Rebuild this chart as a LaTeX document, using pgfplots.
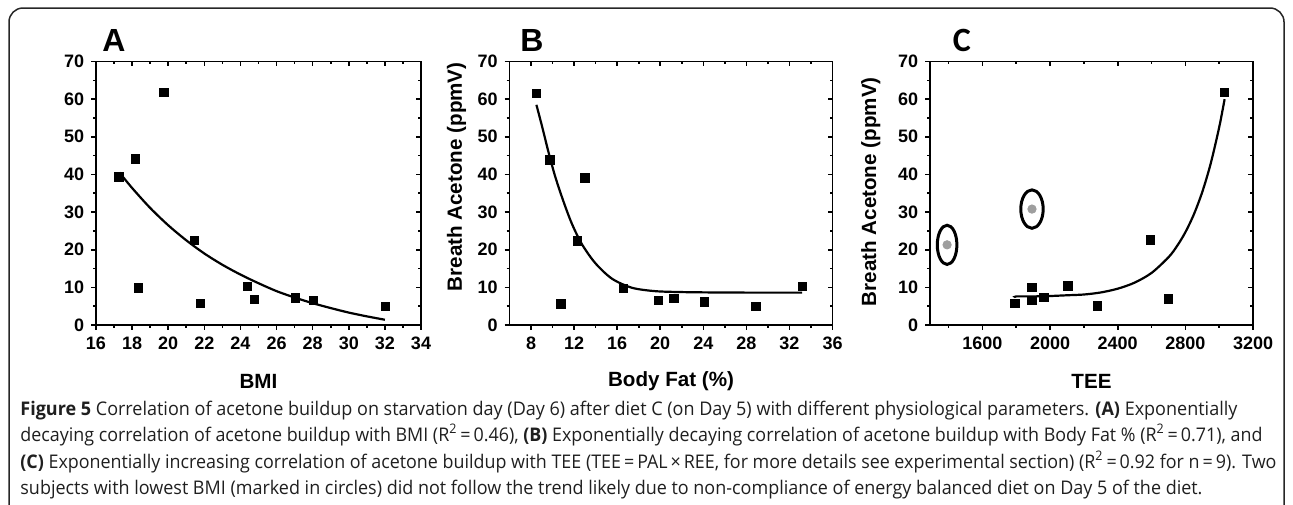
\documentclass[border=0pt]{standalone}
\usepackage{pgfplots}
\pgfplotsset{compat=1.18}
\usepackage{fontspec}
\usepackage{graphicx}
\setmainfont{Liberation Sans}
\newfontfamily\capfont{Open Sans}
\newfontfamily\cfont{Carlito}

\pgfplotsset{
  panel/.style={
    scale only axis, height=131.75pt,
    ymin=0, ymax=70, ytick={0,10,...,70}, minor ytick={5,15,...,65},
    tick align=outside, xtick pos=left, ytick pos=left,
    axis line style={line width=0.9pt},
    major tick length=2.4pt, minor tick length=1.4pt,
    every tick/.append style={line width=0.8pt, black},
    tick label style={font=\bfseries\fontsize{9}{10}\selectfont},
    /pgf/number format/assume math mode=true,
    /pgf/number format/1000 sep={},
    scaled x ticks=false,
    label style={font=\bfseries\fontsize{10.3}{12}\selectfont},
    xlabel style={at={(axis description cs:0.5,-0.2125)}, anchor=center},
    clip=false,
  },
  mirror/.style={
    scale only axis, height=131.75pt,
    ymin=0, ymax=70, ytick={0,10,...,70}, minor ytick={5,15,...,65},
    tick align=inside, xtick pos=right, ytick pos=right,
    axis line style={line width=0.9pt},
    major tick length=2.4pt, minor tick length=1.4pt,
    every tick/.append style={line width=0.8pt, black},
    xticklabels={}, yticklabels={},
    scaled x ticks=false,
  },
}

\begin{document}
\begin{tikzpicture}
\path[use as bounding box] (0pt,0pt) rectangle (646.5pt,-252pt);
\draw[line width=0.75pt, rounded corners=7pt, color=black!85] (4.5pt,-4pt) rectangle (642pt,-280pt);

% Panel A
\begin{axis}[panel, anchor=south west, at={(48pt,-162.5pt)}, width=162.5pt,
  xmin=16, xmax=34, xtick={16,18,...,34}, minor xtick={17,19,...,33},
  xlabel={BMI}]
\addplot[only marks, mark=square*, mark size=2.1pt, black] coordinates {
(17.27,39.3) (18.18,44.1) (19.77,61.8) (18.36,9.9) (21.46,22.5) (21.78,5.7)
(24.38,10.3) (24.77,6.8) (27.06,7.2) (28.05,6.6) (32.04,5.0)};
\addplot[smooth, no marks, line width=1.1pt, black] coordinates {
(17.3,40.5) (18,36.4) (19,31.1) (20,26.5) (21,22.5) (22,19.0) (23,16.0) (24,13.4)
(25,11.1) (26,9.0) (27,7.3) (28,5.8) (29,4.5) (30,3.3) (31,2.3) (32,1.4)};
\end{axis}
\begin{axis}[mirror, anchor=south west, at={(48pt,-162.5pt)}, width=162.5pt,
  xmin=16, xmax=34, xtick={16,18,...,34}, minor xtick={17,19,...,33}]
\end{axis}

% Panel B
\begin{axis}[panel, anchor=south west, at={(254.75pt,-162.5pt)}, width=161.5pt,
  xmin=6, xmax=36, xtick={8,12,...,36}, minor xtick={10,14,...,34},
  xlabel={Body Fat (\%)}, ylabel={Breath Acetone (ppmV)},
  ylabel style={at={(axis description cs:-0.1637,0.5623)}, anchor=center}]
\addplot[only marks, mark=square*, mark size=2.1pt, black] coordinates {
(8.50,61.6) (9.74,43.9) (10.76,5.6) (12.31,22.3) (12.99,39.1) (16.60,9.8)
(19.85,6.6) (21.27,7.1) (24.09,6.1) (28.88,4.9) (33.18,10.2)};
\addplot[smooth, no marks, line width=1.1pt, black] coordinates {
(8.5,58.5) (9.03,52.7) (9.65,45.6) (10.27,39.2) (11.04,32.6) (11.81,26.8)
(12.74,21.4) (13.98,16.4) (15.52,12.3) (17.37,9.9) (19.5,9.0) (22,8.75) (25,8.65) (29,8.6) (33.18,8.6)};
\end{axis}
\begin{axis}[mirror, anchor=south west, at={(254.75pt,-162.5pt)}, width=161.5pt,
  xmin=6, xmax=36, xtick={8,12,...,36}, minor xtick={10,14,...,34}]
\end{axis}

% Panel C
\begin{axis}[panel, anchor=south west, at={(465pt,-162.5pt)}, width=161.5pt,
  xmin=1290, xmax=3200, xtick={1600,2000,...,3200}, minor xtick={1400,1800,...,3000},
  xlabel={TEE}, ylabel={Breath Acetone (ppmV)},
  ylabel style={at={(axis description cs:-0.1836,0.5057)}, anchor=center}]
\addplot[only marks, mark=square*, mark size=2.1pt, black] coordinates {
(1791,5.8) (1893,10.0) (1893,6.5) (1964,7.3) (2106,10.4) (2280,5.1)
(2593,22.6) (2699,6.9) (3032,61.8)};
\addplot[only marks, mark=*, mark size=2.1pt, color=black!38] coordinates {
(1391,21.3) (1893,30.8)};
\addplot[smooth, no marks, line width=1.1pt, black] coordinates {
(1795,7.4) (1800,7.6) (1900,7.6) (2000,7.7) (2100,7.9) (2200,8.1) (2300,8.65) (2400,9.65)
(2500,11.26) (2600,13.84) (2700,17.99) (2750,20.93) (2800,24.65) (2850,29.37)
(2900,35.35) (2950,42.94) (3000,52.54) (3032,60)};
\draw[line width=1.5pt] (axis cs:1391,21.3) ellipse [x radius=4.9pt, y radius=9.8pt];
\draw[line width=1.5pt] (axis cs:1893,30.8) ellipse [x radius=5.6pt, y radius=9.6pt];
\end{axis}
\begin{axis}[mirror, anchor=south west, at={(465pt,-162.5pt)}, width=161.5pt,
  xmin=1290, xmax=3200, xtick={1600,2000,...,3200}, minor xtick={1400,1800,...,3000}]
\end{axis}

% Panel letters
\node[font=\bfseries\fontsize{16}{18}\selectfont, inner sep=0pt] at (57pt,-20.4pt) {A};
\node[font=\bfseries\fontsize{16}{18}\selectfont, inner sep=0pt] at (266pt,-20pt) {B};
\node[font=\cfont\bfseries\fontsize{17}{19}\selectfont, inner sep=0pt] at (480.9pt,-20.4pt) {C};

% Caption
\begin{scope}[every node/.style={anchor=base west, inner sep=0pt, color=black!88, font=\capfont\fontsize{9.4}{11}\selectfont}]
\node at (10pt,-207.5pt) {\resizebox{608.5pt}{\height}{\textbf{Figure 5} Correlation of acetone buildup on starvation day (Day 6) after diet C (on Day 5) with different physiological parameters. \textbf{(A)} Exponentially}};
\node at (10pt,-220.75pt) {\resizebox{621pt}{\height}{decaying correlation of acetone buildup with BMI (R\textsuperscript{2}\,=\,0.46), \textbf{(B)} Exponentially decaying correlation of acetone buildup with Body Fat \% (R\textsuperscript{2}\,=\,0.71), and}};
\node at (10pt,-234pt) {\resizebox{628pt}{\height}{\textbf{(C)} Exponentially increasing correlation of acetone buildup with TEE (TEE\,=\,PAL\,×\,REE, for more details see experimental section) (R\textsuperscript{2}\,=\,0.92 for n\,=\,9). Two}};
\node at (10pt,-247pt) {\resizebox{591pt}{\height}{subjects with lowest BMI (marked in circles) did not follow the trend likely due to non-compliance of energy balanced diet on Day 5 of the diet.}};
\end{scope}
\end{tikzpicture}
\end{document}
